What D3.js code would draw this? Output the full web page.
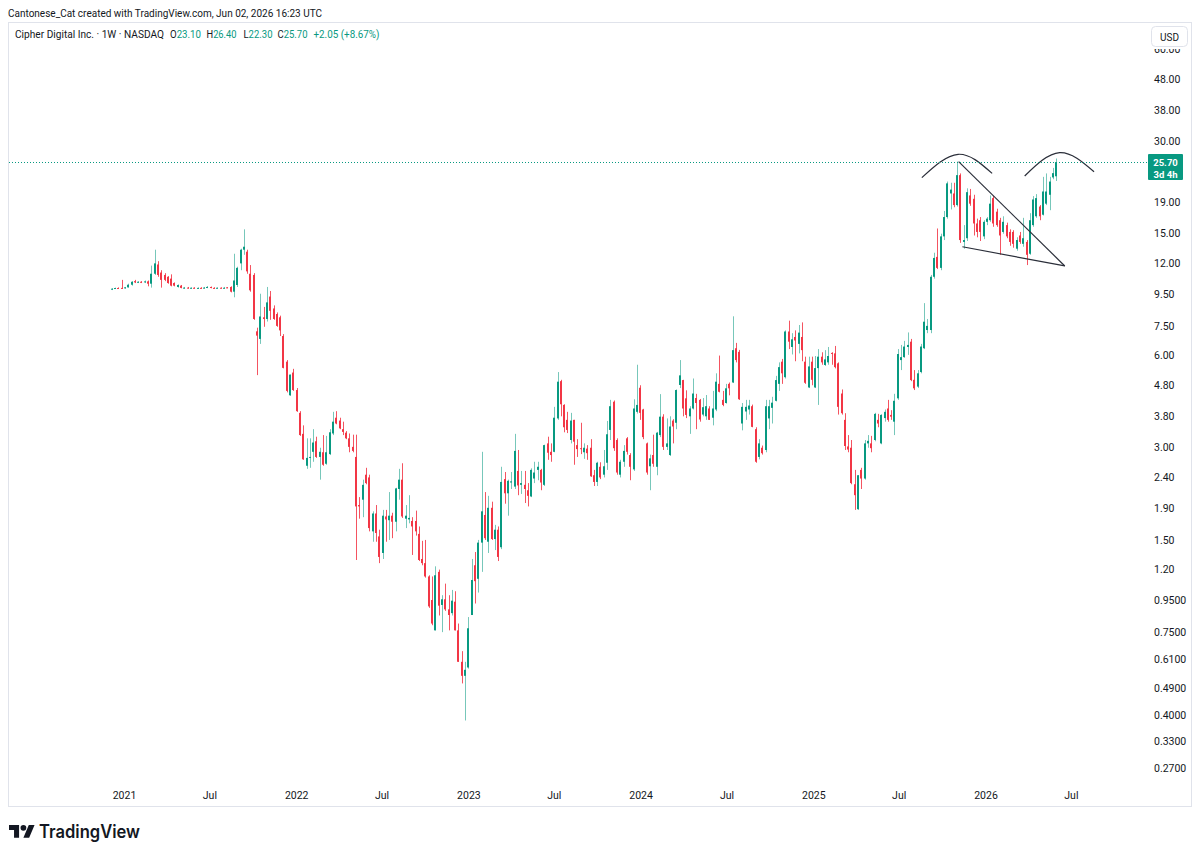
<!DOCTYPE html>
<html>
<head>
<meta charset="utf-8">
<script src="https://cdn.jsdelivr.net/npm/d3@7"></script>
<style>
body { margin: 0; background: #fff; }
svg { display: block; font-family: Roboto, "Liberation Sans", sans-serif; }
</style>
</head>
<body>
<script>
// weekly bars, first one is the week of Dec 07 2020
var firstBar = "2020-12-07";

var opens = [9.88,9.95,9.97,9.98,9.95,10.02,10.22,10.5,10.4,10.45,
10.4,10.48,10.3,11.1,11.9,11.2,11.0,10.85,10.7,10.35,
10.05,10.15,9.98,10.0,9.96,9.99,9.95,9.98,9.97,10.0,
10.05,9.98,9.96,9.99,9.97,10.02,10.05,9.7,10.2,12.0,
13.3,13.1,11.1,11.0,7.2,6.8,8.0,7.9,9.35,8.55,
8.2,8.0,6.95,5.73,4.45,5.28,4.63,3.9,3.33,2.62,
2.78,2.91,3.15,2.8,2.9,2.66,2.86,3.34,3.76,3.68,
3.45,3.36,3.22,3.02,2.8,1.95,2.03,2.45,2.4,1.6,
1.83,1.54,1.36,1.79,1.74,1.8,1.72,2.2,2.36,1.76,
1.75,1.73,1.73,1.57,1.3,1.26,1.14,0.955,0.76,1.18,
0.92,0.96,0.89,0.865,0.943,0.76,0.6,0.54,0.575,0.853,
1.24,1.12,1.47,1.81,1.48,1.91,1.51,1.62,1.42,2.37,
2.13,2.31,2.24,2.52,2.27,2.27,2.18,2.08,2.38,2.54,
2.54,2.27,3.1,2.91,2.91,3.74,4.95,4.14,3.7,3.18,
3.7,3.06,2.99,2.9,2.98,3.0,2.44,2.32,2.6,2.45,
2.68,3.43,4.24,3.18,2.45,2.7,3.22,2.84,2.55,3.93,
4.71,4.0,3.1,2.61,2.84,2.6,3.3,3.79,3.02,2.84,
3.68,3.62,4.81,4.99,4.35,3.8,4.03,4.36,4.3,3.85,
3.8,4.03,3.76,4.0,4.85,4.3,4.2,4.85,4.9,6.34,
6.17,3.6,3.94,4.0,4.1,3.45,2.8,3.0,2.95,3.74,
4.05,4.27,4.85,5.73,5.1,7.19,6.4,6.9,6.55,6.9,
5.73,4.72,5.73,4.72,5.46,5.95,5.59,5.7,6.12,6.1,
5.66,4.51,3.7,3.03,3.0,2.28,1.89,2.54,2.38,3.1,
3.1,3.18,3.7,3.1,3.75,4.03,3.84,3.65,4.35,5.8,
5.93,6.4,6.66,5.0,4.75,5.3,6.34,7.27,7.27,10.85,
12.6,11.6,14.7,17.0,20.3,20.3,18.6,23.3,14.1,14.5,
20.0,19.5,16.2,16.6,14.7,16.4,16.6,19.6,17.7,16.6,
15.2,16.0,15.2,15.2,13.4,14.8,13.9,14.1,12.9,16.0,
17.1,18.4,17.3,18.8,20.1,22.9,23.10];

var highs = [9.96,10.0,10.02,10.6,10.05,10.3,10.5,10.6,10.5,10.5,
10.55,10.55,11.8,13.3,12.2,11.4,11.15,10.9,11.05,10.4,
10.25,10.2,10.05,10.05,10.02,10.03,10.02,10.03,10.05,10.12,
10.08,10.03,10.02,10.02,10.05,10.04,10.1,12.9,11.7,13.4,
15.5,13.3,11.85,11.15,7.4,9.55,8.65,10.05,9.75,8.75,
8.3,8.1,7.05,5.8,5.2,5.43,4.7,3.95,3.55,3.22,
3.22,3.45,3.26,3.0,3.3,3.28,3.45,3.93,3.95,3.76,
3.65,3.4,3.34,3.31,3.31,2.07,2.36,2.58,2.45,1.86,
1.95,1.62,1.88,1.88,2.15,1.84,2.22,2.56,2.67,1.95,
2.1,1.78,1.87,1.66,1.49,1.5,1.15,1.14,1.23,1.2,
0.99,1.08,0.99,1.03,1.02,0.8,0.65,0.6,0.84,1.3,
1.37,1.5,2.91,2.15,2.09,2.0,1.68,1.66,2.6,2.5,
2.36,2.5,3.33,2.95,2.52,2.52,2.3,2.57,2.7,2.7,
2.56,3.07,3.26,3.1,4.08,5.3,5.0,4.16,3.93,3.9,
3.7,3.2,3.62,3.1,3.06,3.2,2.54,2.7,2.69,2.95,
3.67,4.3,4.28,3.22,2.74,3.06,3.25,2.88,4.32,5.6,
4.8,4.02,3.12,2.85,3.31,3.38,4.49,3.86,3.74,3.8,
3.72,4.65,5.8,5.0,4.62,4.1,5.05,4.5,4.33,4.36,
4.46,4.1,4.6,5.25,6.0,4.6,4.85,4.9,8.06,6.6,
6.26,4.2,4.3,4.3,4.15,3.5,3.2,3.05,4.3,4.3,
4.4,5.15,5.7,5.85,7.25,7.8,7.1,7.25,7.55,7.7,
5.95,5.95,5.95,5.98,6.3,6.15,6.25,6.4,6.15,6.45,
5.7,4.65,3.89,3.3,3.18,2.54,2.44,2.58,3.18,3.3,
3.28,3.9,3.87,3.86,4.0,4.3,3.98,4.5,6.3,6.5,
6.7,7.14,6.8,5.38,5.38,6.55,8.9,7.9,11.0,13.0,
15.6,15.0,17.8,22.2,22.0,22.0,25.8,23.6,16.0,21.1,
21.0,20.1,16.8,17.0,16.6,17.0,20.0,19.9,18.1,16.9,
17.1,16.3,15.5,15.4,14.6,15.2,16.9,14.3,17.5,19.9,
20.2,18.6,23.0,23.6,23.0,24.6,26.40];

var lows = [9.82,9.9,9.92,9.92,9.92,10.0,10.15,10.35,10.35,10.35,
10.35,10.1,10.0,11.0,10.85,10.0,10.5,10.3,10.1,10.1,
10.0,9.95,9.92,9.93,9.92,9.93,9.92,9.94,9.94,9.96,
9.95,9.94,9.93,9.94,9.93,9.96,9.65,9.3,10.05,11.4,
12.8,11.1,9.7,7.85,5.18,6.55,7.45,7.75,7.85,7.85,
7.45,6.95,5.45,4.55,4.43,4.6,3.93,3.28,2.74,2.56,
2.58,2.7,2.78,2.36,2.62,2.64,2.84,3.3,3.58,3.45,
3.3,3.2,2.9,2.9,1.29,1.76,1.78,2.28,1.6,1.48,
1.48,1.26,1.3,1.48,1.5,1.52,1.6,2.03,1.77,1.64,
1.7,1.34,1.55,1.28,1.24,1.13,0.9,0.79,0.76,0.85,
0.75,0.88,0.76,0.85,0.76,0.6,0.51,0.386,0.57,0.853,
0.93,1.01,1.18,1.5,1.36,1.5,1.39,1.28,1.4,1.97,
1.8,2.2,2.2,2.1,2.12,1.98,1.93,2.07,2.3,2.35,
2.18,2.25,2.74,2.7,2.9,3.7,3.8,3.37,3.35,3.1,
2.64,2.8,2.86,2.76,2.74,2.41,2.25,2.25,2.37,2.4,
2.54,3.18,2.93,2.45,2.4,2.6,2.85,2.35,2.52,3.88,
3.7,3.2,2.45,2.18,2.6,2.44,3.25,2.95,2.95,2.82,
3.1,3.45,4.7,3.8,3.75,3.33,4.0,3.45,3.65,3.8,
3.7,3.7,3.55,3.95,4.55,4.1,4.18,4.45,4.88,5.7,
4.3,3.42,3.7,3.85,3.5,2.68,2.75,2.85,2.9,3.45,
3.6,4.25,4.6,4.85,5.05,6.3,6.05,5.75,6.1,5.75,
4.85,4.7,4.8,4.7,4.14,5.6,5.55,5.6,5.6,5.45,
3.85,3.85,2.95,2.9,2.28,1.88,1.88,2.2,2.36,3.0,
2.9,3.15,3.5,3.08,3.65,3.65,3.7,3.3,4.3,5.38,
5.9,6.03,4.95,4.63,4.7,5.25,6.3,7.1,7.1,10.7,
11.5,11.4,14.3,16.8,18.0,18.3,18.4,14.0,13.4,14.2,
18.5,14.8,14.6,14.2,14.4,16.0,16.4,15.8,15.8,12.8,
15.0,14.5,13.7,13.5,13.2,13.9,13.6,11.85,12.8,15.8,
16.9,16.6,17.2,18.6,17.9,22.6,22.30];

var closes = [9.92,9.97,9.95,9.95,10.02,10.22,10.45,10.4,10.45,10.4,
10.48,10.3,11.1,12.0,11.0,10.6,10.6,10.35,10.15,10.15,
10.2,9.98,10.0,9.96,9.99,9.95,9.98,9.97,10.0,10.05,
9.98,9.96,9.99,9.97,9.99,9.98,9.7,10.55,11.6,13.3,
13.6,11.3,9.8,7.9,6.97,8.05,7.9,8.95,8.4,7.9,
7.5,7.25,5.47,4.6,5.2,4.63,3.95,3.3,2.75,2.78,
2.8,3.12,2.8,2.91,2.64,2.9,3.37,3.65,3.6,3.47,
3.38,3.22,3.02,2.93,1.93,1.93,2.27,2.3,1.64,1.83,
1.58,1.32,1.8,1.75,1.8,1.72,2.21,2.36,1.79,1.8,
1.77,1.66,1.6,1.29,1.26,1.14,0.91,0.8,1.15,0.915,
0.96,0.89,0.853,0.95,0.76,0.6,0.54,0.565,0.772,1.11,
1.1,1.47,1.86,1.52,1.91,1.51,1.62,1.32,2.32,2.13,
2.34,2.33,2.93,2.26,2.3,2.2,2.09,2.54,2.49,2.6,
2.31,3.06,2.89,2.84,3.76,4.93,4.16,3.5,3.43,3.68,
3.14,2.97,2.97,3.0,2.88,2.42,2.32,2.68,2.4,2.61,
3.32,4.1,2.99,2.49,2.7,2.93,2.91,2.6,4.03,4.14,
3.9,3.25,2.49,2.77,2.66,3.36,3.79,3.02,3.1,3.52,
3.52,4.63,5.17,4.03,3.84,4.03,4.51,4.2,3.71,4.07,
4.1,3.7,4.03,4.93,4.57,4.14,4.69,4.69,6.25,5.8,
4.32,4.08,4.08,4.12,3.51,2.7,3.1,2.88,4.1,4.1,
4.21,4.99,5.5,5.25,7.19,6.66,6.78,6.72,7.13,6.25,
4.89,5.53,5.0,5.46,5.95,5.7,5.83,5.98,6.1,5.5,
4.08,3.89,3.04,2.96,2.3,2.1,2.44,2.38,3.1,3.16,
2.99,3.87,3.6,3.84,3.93,3.7,3.79,4.27,6.07,5.93,
6.42,6.5,4.99,4.69,5.25,6.42,7.74,7.5,10.85,12.5,
11.6,14.7,17.0,21.9,20.9,18.6,23.3,14.3,14.3,20.5,
18.8,16.2,15.2,15.2,16.4,16.8,18.8,16.2,16.0,14.8,
16.4,14.7,14.1,13.9,14.3,14.1,14.5,12.8,16.6,19.4,
19.6,17.1,20.6,20.6,22.2,23.65,25.70];

// 24.00 sits under the last-price label, so it is left out
var priceTicks = [60, 48, 38, 30, 19, 15, 12, 9.5, 7.5, 6, 4.8, 3.8, 3, 2.4, 1.9, 1.5, 1.2, 0.95, 0.75, 0.61, 0.49, 0.40, 0.33, 0.27];
var timeTickDates = ["2021-01-01","2021-07-01","2022-01-01","2022-07-01","2023-01-01","2023-07-01",
                     "2024-01-01","2024-07-01","2025-01-01","2025-07-01","2026-01-01","2026-07-01"];
var timeTickLabels = ["2021","Jul","2022","Jul","2023","Jul","2024","Jul","2025","Jul","2026","Jul"];

var lastPrice = 25.70;
var countdown = "3d 4h";

// drawings on the chart: [date, price]
var wedgeTop = [["2025-11-04", 25.78], ["2026-06-17", 11.77]];
var wedgeBottom = [["2025-11-12", 13.6], ["2026-06-17", 11.77]];
var arcLeft = [["2025-08-18", 22.86], ["2025-11-03", 27.25], ["2026-01-14", 23.6]];
var arcRight = [["2026-03-24", 23.15], ["2026-06-06", 27.6], ["2026-08-18", 23.9]];

var upColor = "#089981", downColor = "#F23645", textColor = "#131722";

var width = 1200, height = 856;

var svg = d3.select("body").append("svg")
    .attr("width", width)
    .attr("height", height);

var x = d3.scaleUtc()
    .domain([new Date("2021-01-01"), new Date("2026-01-01")])
    .range([124.5, 986]);

var y = d3.scaleLog()
    .domain([0.27, 48])
    .range([768, 79]);

var start = new Date(firstBar + "T00:00:00Z");
var bars = closes.map(function(c, i) {
    return {date: d3.utcDay.offset(start, 7 * i), o: opens[i], h: highs[i], l: lows[i], c: c};
});

// top caption
svg.append("text")
    .attr("x", 8).attr("y", 17)
    .attr("font-size", 11)
    .attr("fill", textColor)
    .attr("textLength", 314).attr("lengthAdjust", "spacingAndGlyphs")
    .text("Cantonese_Cat created with TradingView.com, Jun 02, 2026 16:23 UTC");

// chart frame
svg.append("rect")
    .attr("x", 8.5).attr("y", 22.5)
    .attr("width", 1183).attr("height", 784)
    .attr("fill", "none")
    .attr("stroke", "#e0e3eb");

// legend line
var legend = svg.append("g").attr("font-size", 10.5).attr("fill", textColor);
legend.append("text").attr("x", 15).attr("y", 38)
    .attr("textLength", 149).attr("lengthAdjust", "spacingAndGlyphs")
    .text("Cipher Digital Inc. \u00b7 1W \u00b7 NASDAQ");
var ohlc = [["O", "23.10", 170, 31], ["H", "26.40", 206.5, 30], ["L", "22.30", 243.5, 29], ["C", "25.70", 277.5, 30]];
ohlc.forEach(function(d) {
    var t = legend.append("text").attr("x", d[2]).attr("y", 38)
        .attr("textLength", d[3]).attr("lengthAdjust", "spacingAndGlyphs");
    t.append("tspan").text(d[0]);
    t.append("tspan").attr("fill", upColor).text(d[1]);
});
legend.append("text").attr("x", 313.5).attr("y", 38)
    .attr("fill", upColor)
    .attr("textLength", 66).attr("lengthAdjust", "spacingAndGlyphs")
    .text("+2.05 (+8.67%)");

// candles
var candles = svg.append("g");

candles.selectAll(".wick")
    .data(bars)
    .enter().append("rect")
    .attr("class", "wick")
    .attr("x", function(d) { return Math.round(x(d.date)) - 1; })
    .attr("width", 1)
    .attr("y", function(d) { return y(d.h); })
    .attr("height", function(d) { return Math.max(1, y(d.l) - y(d.h)); })
    .attr("fill", function(d) { return d.c >= d.o ? "rgba(8,153,129,0.55)" : "rgba(242,54,69,0.85)"; });

candles.selectAll(".body")
    .data(bars)
    .enter().append("rect")
    .attr("class", "body")
    .attr("x", function(d) { return Math.round(x(d.date)) - 2; })
    .attr("width", 2)
    .attr("y", function(d) { return y(Math.max(d.o, d.c)); })
    .attr("height", function(d) { return Math.max(1, Math.abs(y(d.o) - y(d.c))); })
    .attr("fill", function(d) { return d.c >= d.o ? upColor : downColor; });

// drawings
function pt(p) { return [x(new Date(p[0])), y(p[1])]; }
var straight = d3.line();
var curved = d3.line().curve(d3.curveNatural);
[wedgeTop, wedgeBottom].forEach(function(seg) {
    svg.append("path").attr("d", straight(seg.map(pt)))
        .attr("fill", "none").attr("stroke", "#2a2e39").attr("stroke-width", 1.2);
});
[arcLeft, arcRight].forEach(function(seg) {
    svg.append("path").attr("d", curved(seg.map(pt)))
        .attr("fill", "none").attr("stroke", "#2a2e39").attr("stroke-width", 1.2);
});

// last price line
svg.append("line")
    .attr("x1", 9).attr("x2", 1148)
    .attr("y1", Math.round(y(lastPrice)) + 0.5).attr("y2", Math.round(y(lastPrice)) + 0.5)
    .attr("stroke", upColor)
    .attr("stroke-dasharray", "1,2");

// price axis
svg.append("clipPath").attr("id", "axisclip")
    .append("rect").attr("x", 1140).attr("y", 49).attr("width", 52).attr("height", 757);

svg.append("g").attr("clip-path", "url(#axisclip)")
    .selectAll("text")
    .data(priceTicks)
    .enter().append("text")
    .attr("x", 1154)
    .attr("y", function(d) { return y(d); })
    .attr("dy", "0.35em")
    .attr("font-size", 10.5)
    .attr("fill", textColor)
    .text(function(d) { return d >= 1 ? d.toFixed(2) : d.toFixed(4); });

// last price label
var ly = y(lastPrice);
svg.append("rect")
    .attr("x", 1148).attr("y", ly - 8)
    .attr("width", 35).attr("height", 26)
    .attr("rx", 1)
    .attr("fill", upColor);
svg.append("text")
    .attr("x", 1165.5).attr("y", ly + 3.5)
    .attr("text-anchor", "middle")
    .attr("font-size", 9.5).attr("font-weight", "bold")
    .attr("fill", "#fff")
    .text(lastPrice.toFixed(2));
svg.append("text")
    .attr("x", 1165.5).attr("y", ly + 15.5)
    .attr("text-anchor", "middle")
    .attr("font-size", 9.5).attr("font-weight", "bold")
    .attr("fill", "#fff")
    .text(countdown);

// currency button
svg.append("rect")
    .attr("x", 1151.5).attr("y", 26.5)
    .attr("width", 36).attr("height", 20)
    .attr("rx", 4)
    .attr("fill", "#fff")
    .attr("stroke", "#e0e3eb");
svg.append("text")
    .attr("x", 1169.5).attr("y", 37).attr("dy", "0.35em")
    .attr("text-anchor", "middle")
    .attr("font-size", 10)
    .attr("fill", textColor)
    .text("USD");

// time axis
svg.append("g")
    .selectAll("text")
    .data(timeTickDates)
    .enter().append("text")
    .attr("x", function(d) { return x(new Date(d)); })
    .attr("y", 795)
    .attr("dy", "0.35em")
    .attr("text-anchor", "middle")
    .attr("font-size", 10.5)
    .attr("fill", textColor)
    .text(function(d, i) { return timeTickLabels[i]; });

// TradingView logo
var logo = svg.append("g").attr("transform", "translate(9,822) scale(0.72)").attr("fill", textColor);
logo.append("path").attr("d", "M14 22H7V11H0V4h14v18zM28 22h-8l7.5-18h8L28 22z");
logo.append("circle").attr("cx", 20).attr("cy", 8).attr("r", 4);
svg.append("text")
    .attr("x", 39).attr("y", 838)
    .attr("font-family", "Inter, Roboto, sans-serif")
    .attr("font-size", 18).attr("font-weight", 600)
    .attr("fill", textColor)
    .attr("textLength", 101).attr("lengthAdjust", "spacingAndGlyphs")
    .text("TradingView");
</script>
</body>
</html>
